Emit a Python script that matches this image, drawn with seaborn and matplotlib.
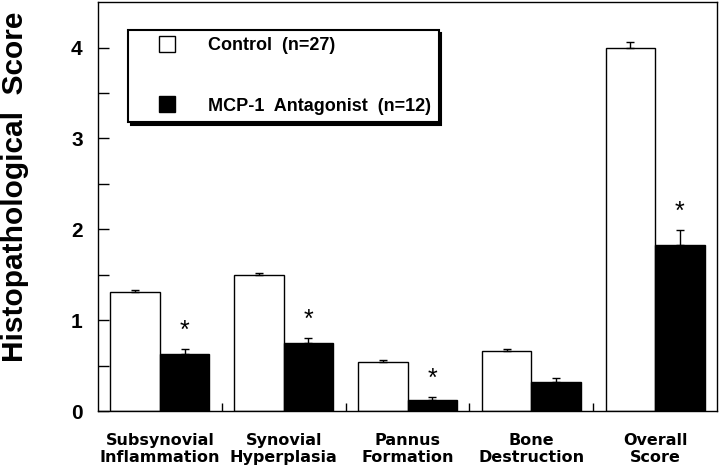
import numpy as np
import pandas as pd
import seaborn as sns
import matplotlib
matplotlib.use("Agg")
import matplotlib.pyplot as plt
from matplotlib.lines import Line2D

# values
categories = ["Subsynovial\nInflammation", "Synovial\nHyperplasia", "Pannus\nFormation",
              "Bone\nDestruction", "Overall\nScore"]
groups = ["Control  (n=27)", "MCP-1  Antagonist  (n=12)"]
control = [1.31, 1.50, 0.54, 0.66, 4.00]
antagonist = [0.63, 0.75, 0.12, 0.32, 1.83]
control_err = [0.02, 0.02, 0.02, 0.02, 0.06]
antagonist_err = [0.05, 0.05, 0.03, 0.04, 0.16]
significant = [True, True, True, False, True]
y_ticks = [0, 1, 2, 3, 4]

sns.set_theme(style="ticks")
plt.rcParams['font.family'] = ['Liberation Sans', 'DejaVu Sans']
plt.rcParams['font.weight'] = 'bold'
for key in ["text.color", "axes.labelcolor", "xtick.color", "ytick.color", "axes.edgecolor"]:
    plt.rcParams[key] = "black"

df = pd.DataFrame({
    "Category": categories * 2,
    "Group": [groups[0]] * len(categories) + [groups[1]] * len(categories),
    "Score": control + antagonist,
})

fig = plt.figure(figsize=(7.2, 4.7), dpi=100)
ax = fig.add_axes([0.136, 0.1255, 0.860, 0.870])

sns.barplot(data=df, x="Category", y="Score", hue="Group", hue_order=groups,
            palette=["white", "black"], edgecolor="black", linewidth=1,
            saturation=1, width=0.8, errorbar=None, ax=ax)

# one-sided error bars and significance stars
errs = [control_err, antagonist_err]
bar_groups = list(ax.containers)
for i, container in enumerate(bar_groups):
    for j, bar in enumerate(container):
        x = bar.get_x() + bar.get_width() / 2
        h = bar.get_height()
        ax.errorbar(x, h, yerr=[[0], [errs[i][j]]], fmt="none", ecolor="black",
                    elinewidth=1, capsize=3, capthick=1)
        if i == 1 and significant[j]:
            ax.text(x, h + errs[i][j] + 0.13, "*", ha="center", va="baseline",
                    fontsize=18, fontweight="normal")

ax.set_xlim(-0.5, 4.5)
ax.set_ylim(0, 4.5)
ax.set_yticks(y_ticks)
ax.set_yticks(np.arange(0.5, 4.5, 1.0), minor=True)
ax.set_xticks([0.5, 1.5, 2.5, 3.5], minor=True)
ax.tick_params(axis="y", which="both", direction="in", length=8, width=1, pad=11,
               labelsize=15)
ax.tick_params(axis="x", which="major", length=0, pad=16)
ax.tick_params(axis="x", which="minor", direction="in", length=6, width=1)
for lab in ax.get_xticklabels():
    lab.set_fontfamily(["DejaVu Sans"])
    lab.set_fontsize(11.5)
    lab.set_fontweight("bold")
    lab.set_linespacing(1.15)

for s in ax.spines.values():
    s.set_linewidth(1)
    s.set_color("black")

ax.set_xlabel("")
ax.set_ylabel("Histopathological  Score", fontsize=21.5, fontweight="bold")
ax.yaxis.set_label_coords(-0.112, 0.548)

handles = [Line2D([], [], marker="s", linestyle="none", markersize=11,
                  markerfacecolor=c, markeredgecolor="black", markeredgewidth=1)
           for c in ["white", "black"]]
leg = ax.legend(handles, groups, loc="upper left", bbox_to_anchor=(0.0485, 0.9315),
                borderaxespad=0, fancybox=False, framealpha=1, edgecolor="black",
                fontsize=13, handlelength=3.5, handletextpad=0.55, borderpad=0.4,
                labelspacing=2.4, shadow={"color": "black", "alpha": 1})
leg.get_frame().set_linewidth(1.5)

fig.savefig("out.png", dpi=100)
